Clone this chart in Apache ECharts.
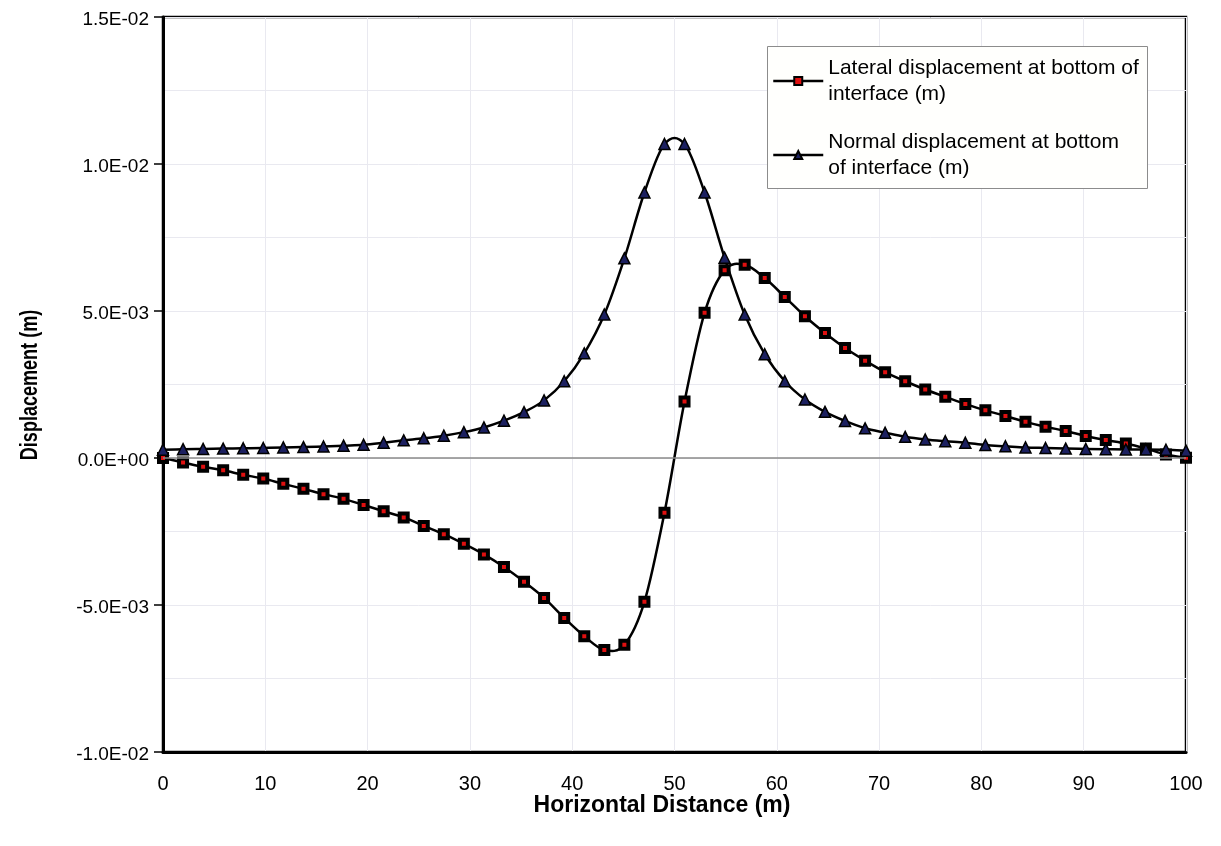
<!DOCTYPE html>
<html>
<head>
<meta charset="utf-8">
<title>Displacement along the interface</title>
<script src="https://cdn.jsdelivr.net/npm/echarts@6/dist/echarts.min.js"></script>
<style>
  html, body { margin: 0; padding: 0; background: #ffffff; }
  #chart { width: 1221px; height: 846px; }
</style>
</head>
<body>
<div id="chart"></div>
<script>
// Horizontal distance of each sampling point (m)
const distance = [
  0, 1.96, 3.92, 5.88, 7.84, 9.80, 11.76, 13.73, 15.69, 17.65,
  19.61, 21.57, 23.53, 25.49, 27.45, 29.41, 31.37, 33.33, 35.29, 37.25,
  39.22, 41.18, 43.14, 45.10, 47.06, 49.02, 50.98, 52.94, 54.90, 56.86,
  58.82, 60.78, 62.75, 64.71, 66.67, 68.63, 70.59, 72.55, 74.51, 76.47,
  78.43, 80.39, 82.35, 84.31, 86.27, 88.24, 90.20, 92.16, 94.12, 96.08,
  98.04, 100
];

// Lateral displacement at bottom of interface (m)
const lateral = [
  0.00000, -0.00015, -0.00030, -0.00042, -0.00057, -0.00070, -0.00088, -0.00105, -0.00123, -0.00139,
  -0.00160, -0.00181, -0.00202, -0.00231, -0.00259, -0.00292, -0.00328, -0.00371, -0.00421, -0.00476,
  -0.00544, -0.00606, -0.00653, -0.00635, -0.00489, -0.00186, 0.00192, 0.00494, 0.00639, 0.00657,
  0.00612, 0.00548, 0.00482, 0.00425, 0.00374, 0.00331, 0.00292, 0.00261, 0.00233, 0.00208,
  0.00184, 0.00162, 0.00143, 0.00123, 0.00106, 0.00092, 0.00075, 0.00061, 0.00049, 0.00032,
  0.00012, 0.00001
];

// Normal displacement at bottom of interface (m)
const normal = [
  0.00028, 0.00030, 0.00031, 0.00032, 0.00033, 0.00034, 0.00036, 0.00037, 0.00039, 0.00042,
  0.00045, 0.00052, 0.00060, 0.00067, 0.00076, 0.00088, 0.00104, 0.00127, 0.00156, 0.00196,
  0.00261, 0.00356, 0.00488, 0.00679, 0.00903, 0.01068, 0.01068, 0.00903, 0.00681, 0.00488,
  0.00353, 0.00261, 0.00199, 0.00157, 0.00126, 0.00101, 0.00086, 0.00072, 0.00063, 0.00057,
  0.00052, 0.00044, 0.00040, 0.00036, 0.00034, 0.00032, 0.00031, 0.00030, 0.00029, 0.00029,
  0.00028, 0.00025
];

const seriesNames = [
  'Lateral displacement at bottom of\ninterface (m)',
  'Normal displacement at bottom\nof interface (m)'
];

const xTitle = 'Horizontal Distance (m)';
const yTitle = 'Displacement (m)';

// Scientific tick labels such as 1.5E-02 / 0.0E+00
function sci(v) {
  if (Math.abs(v) < 1e-12) return '0.0E+00';
  const s = v.toExponential(1);
  const parts = s.split('e');
  const exp = parseInt(parts[1], 10);
  const sign = exp < 0 ? '-' : '+';
  const e = String(Math.abs(exp)).padStart(2, '0');
  return parts[0] + 'E' + sign + e;
}

const pairs = (ys) => distance.map((x, i) => [x, ys[i]]);

// Smoothed connecting curve: one cubic Bezier per interval, with
// Catmull-Rom style control points, positioned via the axis scales.
function curveSeries(id, ys) {
  const n = distance.length;
  return {
    id: id,
    type: 'custom',
    coordinateSystem: 'cartesian2d',
    clip: true,
    silent: true,
    z: 2,
    data: pairs(ys),
    encode: { x: 0, y: 1 },
    renderItem: function (params, api) {
      const i = params.dataIndex;
      if (i >= n - 1) return { type: 'group', children: [] };
      const pt = (j) => {
        const k = Math.max(0, Math.min(n - 1, j));
        return api.coord([distance[k], ys[k]]);
      };
      const p0 = pt(i - 1), p1 = pt(i), p2 = pt(i + 1), p3 = pt(i + 2);
      return {
        type: 'bezierCurve',
        shape: {
          x1: p1[0], y1: p1[1], x2: p2[0], y2: p2[1],
          cpx1: p1[0] + (p2[0] - p0[0]) / 6, cpy1: p1[1] + (p2[1] - p0[1]) / 6,
          cpx2: p2[0] - (p3[0] - p1[0]) / 6, cpy2: p2[1] - (p3[1] - p1[1]) / 6
        },
        style: { stroke: '#000000', lineWidth: 2.5, fill: null, lineCap: 'round' }
      };
    }
  };
}

const font = 'Liberation Sans, Arial, Helvetica, sans-serif';

const chart = echarts.init(document.getElementById('chart'), null, { renderer: 'canvas' });

chart.setOption({
  backgroundColor: '#ffffff',
  animation: false,
  grid: {
    left: 163, right: 35, top: 17, bottom: 94,
    show: true, borderColor: '#000000', borderWidth: 2.5,
    backgroundColor: 'transparent'
  },
  graphic: [
    // Legend frame
    {
      type: 'rect',
      left: 767, top: 46,
      shape: { width: 380, height: 142 },
      style: { fill: '#fffffd', stroke: '#8c8c8c', lineWidth: 1 },
      z: 5
    },
    // Vertical axis title (condensed bold)
    {
      type: 'text',
      x: 30, y: 385,
      rotation: Math.PI / 2,
      scaleX: 0.82,
      scaleY: 1.08,
      style: {
        text: yTitle,
        font: 'bold 22px Liberation Sans, Arial, sans-serif',
        fill: '#000000',
        align: 'center',
        verticalAlign: 'middle'
      },
      z: 5
    }
  ],
  legend: {
    orient: 'vertical',
    left: 772, top: 42,
    padding: 0,
    itemGap: -4,
    itemWidth: 50, itemHeight: 10,
    z: 10,
    lineStyle: { color: '#000000', width: 2.5, opacity: 1 },
    textStyle: {
      fontFamily: font, fontSize: 21, color: '#000000',
      lineHeight: 26, padding: [26, 0, 0, 0]
    },
    data: seriesNames
  },
  xAxis: {
    type: 'value',
    min: 0, max: 100, interval: 10,
    name: xTitle,
    nameLocation: 'middle',
    nameGap: 42,
    nameMoveOverlap: false,
    nameTextStyle: { fontFamily: font, fontSize: 23, fontWeight: 'bold', color: '#000000', padding: [0, 25, 0, 0] },
    axisLine: { show: true, onZero: false, lineStyle: { color: '#000000', width: 3 } },
    axisTick: { show: false },
    axisLabel: { fontFamily: font, fontSize: 20, color: '#000000', margin: 22 },
    splitLine: { show: true, lineStyle: { color: '#e9e9f0', width: 1 } }
  },
  yAxis: {
    type: 'value',
    min: -0.01, max: 0.015, interval: 0.005,
    axisLine: { show: true, lineStyle: { color: '#000000', width: 3 } },
    axisTick: { show: true, length: 9, lineStyle: { color: '#000000', width: 1.5 } },
    axisLabel: {
      fontFamily: font, fontSize: 19, color: '#000000', margin: 14,
      formatter: (v) => '{t|' + sci(v) + '}',
      rich: { t: { fontFamily: font, fontSize: 19, color: '#000000', padding: [5, 0, 0, 0] } }
    },
    splitLine: { show: true, lineStyle: { color: '#e9e9f0', width: 1 } },
    minorTick: { show: false, splitNumber: 2 },
    minorSplitLine: { show: true, lineStyle: { color: '#e9e9f0', width: 1 } }
  },
  series: [
    curveSeries('lateral-curve', lateral),
    curveSeries('normal-curve', normal),
    {
      name: seriesNames[0],
      type: 'line',
      data: pairs(lateral),
      symbol: 'rect',
      symbolSize: 8,
      lineStyle: { color: '#000000', width: 2.5, opacity: 0 },
      itemStyle: { color: '#e01010', borderColor: '#000000', borderWidth: 4 },
      z: 3,
      markLine: {
        silent: true,
        symbol: 'none',
        label: { show: false },
        lineStyle: { color: '#8a8a8a', width: 1.5, type: 'solid', opacity: 1 },
        data: [{ yAxis: 0 }]
      }
    },
    {
      name: seriesNames[1],
      type: 'line',
      data: pairs(normal),
      symbol: 'triangle',
      symbolSize: 11,
      lineStyle: { color: '#000000', width: 2.5, opacity: 0 },
      itemStyle: { color: '#1c2060', borderColor: '#000000', borderWidth: 1.5 },
      z: 4
    }
  ]
});
</script>
</body>
</html>
